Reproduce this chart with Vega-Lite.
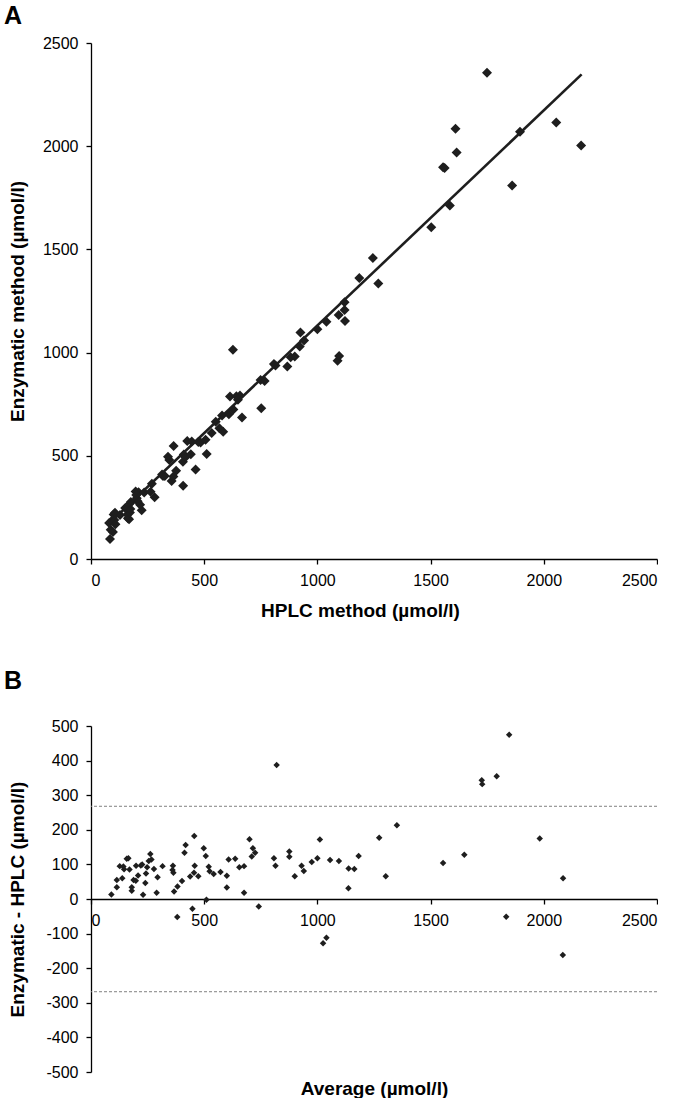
{
  "$schema": "https://vega.github.io/schema/vega-lite/v6.json",
  "padding": {"left": 4, "top": 4, "right": 0, "bottom": 0},
  "autosize": {"type": "pad"},
  "background": "white",
  "config": {
    "font": "Liberation Sans",
    "view": {"stroke": null},
    "axis": {
      "grid": false, "domainColor": "#000", "tickColor": "#000", "labelColor": "#000",
      "labelFontSize": 16, "labelFont": "Liberation Sans", "titleFont": "Liberation Sans",
      "titleFontSize": 19, "titleFontWeight": "bold", "titleColor": "#000",
      "tickSize": 5, "domainWidth": 1.3, "tickWidth": 1.3, "labelPadding": 8,
      "labelOverlap": false, "labelExpr": "'' + datum.value"
    },
    "title": {"fontSize": 25, "fontWeight": "bold", "anchor": "start", "frame": "bounds", "color": "#000", "font": "Liberation Sans"}
  },
  "datasets": {
    "a": [
      {"h":84,"e":97},{"h":97,"e":131},{"h":87,"e":142},{"h":80,"e":175},{"h":108,"e":168},{"h":96,"e":190},{"h":103,"e":189},{"h":100,"e":216},{"h":106,"e":224},{"h":128,"e":213},
      {"h":163,"e":197},{"h":168,"e":192},{"h":161,"e":216},{"h":172,"e":225},{"h":151,"e":247},{"h":174,"e":242},{"h":172,"e":269},{"h":176,"e":276},{"h":224,"e":236},{"h":217,"e":263},
      {"h":206,"e":280},{"h":202,"e":294},{"h":197,"e":327},{"h":210,"e":324},{"h":200,"e":310},{"h":235,"e":322},{"h":281,"e":299},{"h":263,"e":326},{"h":269,"e":364},{"h":314,"e":410},
      {"h":318,"e":402},{"h":326,"e":402},{"h":356,"e":378},{"h":364,"e":400},{"h":407,"e":355},{"h":376,"e":428},{"h":346,"e":480},{"h":340,"e":496},{"h":406,"e":471},{"h":462,"e":434},
      {"h":365,"e":547},{"h":410,"e":506},{"h":417,"e":493},{"h":441,"e":507},{"h":425,"e":572},{"h":445,"e":569},{"h":511,"e":509},{"h":474,"e":567},{"h":484,"e":564},{"h":506,"e":578},
      {"h":533,"e":611},{"h":567,"e":634},{"h":584,"e":617},{"h":551,"e":665},{"h":579,"e":695},{"h":609,"e":701},{"h":629,"e":724},{"h":667,"e":685},{"h":614,"e":787},{"h":642,"e":789},
      {"h":658,"e":792},{"h":649,"e":772},{"h":752,"e":730},{"h":749,"e":867},{"h":767,"e":863},{"h":627,"e":1014},{"h":808,"e":945},{"h":815,"e":937},{"h":867,"e":933},{"h":882,"e":978},
      {"h":900,"e":981},{"h":922,"e":1029},{"h":941,"e":1059},{"h":925,"e":1097},{"h":1089,"e":961},{"h":1096,"e":984},{"h":1000,"e":1113},{"h":1040,"e":1150},{"h":1094,"e":1182},{"h":1120,"e":1207},
      {"h":1122,"e":1153},{"h":1120,"e":1244},{"h":1185,"e":1362},{"h":1269,"e":1335},{"h":1245,"e":1458},{"h":1503,"e":1607},{"h":1585,"e":1713},{"h":1555,"e":1898},{"h":1562,"e":1894},{"h":1615,"e":1970},
      {"h":1860,"e":1809},{"h":1610,"e":2085},{"h":1895,"e":2070},{"h":2055,"e":2115},{"h":2165,"e":2003},{"h":1749,"e":2356}
    ],
    "b": [
      {"avg":90,"diff":13},{"avg":114,"diff":34},{"avg":114,"diff":55},{"avg":127,"diff":95},{"avg":138,"diff":60},{"avg":143,"diff":94},{"avg":146,"diff":86},{"avg":158,"diff":116},{"avg":165,"diff":118},{"avg":170,"diff":85},
      {"avg":180,"diff":34},{"avg":180,"diff":24},{"avg":188,"diff":55},{"avg":198,"diff":53},{"avg":199,"diff":96},{"avg":208,"diff":68},{"avg":220,"diff":97},{"avg":226,"diff":100},{"avg":230,"diff":12},{"avg":240,"diff":46},
      {"avg":243,"diff":74},{"avg":248,"diff":92},{"avg":262,"diff":130},{"avg":267,"diff":114},{"avg":255,"diff":110},{"avg":278,"diff":87},{"avg":290,"diff":18},{"avg":294,"diff":63},{"avg":316,"diff":95},{"avg":362,"diff":96},
      {"avg":360,"diff":84},{"avg":364,"diff":76},{"avg":367,"diff":22},{"avg":382,"diff":36},{"avg":381,"diff":-52},{"avg":402,"diff":52},{"avg":413,"diff":134},{"avg":418,"diff":156},{"avg":438,"diff":65},{"avg":448,"diff":-28},
      {"avg":456,"diff":182},{"avg":458,"diff":96},{"avg":455,"diff":76},{"avg":474,"diff":66},{"avg":498,"diff":147},{"avg":507,"diff":124},{"avg":510,"diff":-2},{"avg":520,"diff":93},{"avg":524,"diff":80},{"avg":542,"diff":72},
      {"avg":572,"diff":78},{"avg":600,"diff":67},{"avg":600,"diff":33},{"avg":608,"diff":114},{"avg":637,"diff":116},{"avg":655,"diff":92},{"avg":676,"diff":95},{"avg":676,"diff":18},{"avg":700,"diff":173},{"avg":715,"diff":147},
      {"avg":725,"diff":134},{"avg":710,"diff":123},{"avg":741,"diff":-22},{"avg":808,"diff":118},{"avg":815,"diff":96},{"avg":820,"diff":387},{"avg":876,"diff":137},{"avg":876,"diff":122},{"avg":900,"diff":66},{"avg":930,"diff":96},
      {"avg":940,"diff":81},{"avg":975,"diff":107},{"avg":1000,"diff":118},{"avg":1011,"diff":172},{"avg":1025,"diff":-128},{"avg":1040,"diff":-112},{"avg":1056,"diff":113},{"avg":1095,"diff":110},{"avg":1138,"diff":88},{"avg":1163,"diff":87},
      {"avg":1137,"diff":31},{"avg":1182,"diff":124},{"avg":1273,"diff":177},{"avg":1302,"diff":66},{"avg":1351,"diff":213},{"avg":1555,"diff":104},{"avg":1649,"diff":128},{"avg":1726,"diff":343},{"avg":1728,"diff":332},{"avg":1792,"diff":355},
      {"avg":1834,"diff":-51},{"avg":1847,"diff":475},{"avg":1982,"diff":175},{"avg":2085,"diff":60},{"avg":2084,"diff":-162}
    ]
  },
  "spacing": 49,
  "vconcat": [
    {
      "title": {"text": "A", "offset": 6, "dx": -4},
      "width": 566,
      "height": 516,
      "layer": [
        {
          "data": {"name": "a"},
          "mark": {"type": "point", "shape": "diamond", "filled": true, "size": 100, "color": "#1e1e1e", "opacity": 1},
          "encoding": {
            "x": {"field": "h", "type": "quantitative", "scale": {"domain": [0, 2500], "nice": false},
                  "axis": {"values": [0, 500, 1000, 1500, 2000, 2500], "title": "HPLC method (µmol/l)", "titlePadding": 13, "titleX": 269}},
            "y": {"field": "e", "type": "quantitative", "scale": {"domain": [0, 2500], "nice": false},
                  "axis": {"values": [0, 500, 1000, 1500, 2000, 2500], "title": "Enzymatic method (µmol/l)", "titleX": -74, "titleBaseline": "middle"}}
          }
        },
        {
          "data": {"values": [{"h": 80, "e": 172}, {"h": 2167, "e": 2348}]},
          "mark": {"type": "line", "color": "#1e1e1e", "strokeWidth": 2.6},
          "encoding": {
            "x": {"field": "h", "type": "quantitative"},
            "y": {"field": "e", "type": "quantitative"}
          }
        }
      ]
    },
    {
      "title": {"text": "B", "offset": 24, "dx": -4},
      "width": 566,
      "height": 346,
      "encoding": {
        "y": {"field": "diff", "type": "quantitative", "scale": {"domain": [-500, 500], "nice": false},
              "axis": {"values": [-500, -400, -300, -200, -100, 0, 100, 200, 300, 400, 500], "labelOverlap": false, "title": "Enzymatic - HPLC (µmol/l)", "titleX": -74, "titleBaseline": "middle"}}
      },
      "layer": [
        {
          "data": {"values": [{"diff": 268}, {"diff": -268}]},
          "mark": {"type": "rule", "color": "#808080", "strokeWidth": 1, "strokeDash": [3, 2]},
          "encoding": {}
        },
        {
          "data": {"name": "b"},
          "mark": {"type": "point", "shape": "diamond", "filled": true, "size": 42, "color": "#1e1e1e", "opacity": 1},
          "encoding": {
            "x": {"field": "avg", "type": "quantitative", "scale": {"domain": [0, 2500], "nice": false},
                  "axis": {"values": [0, 500, 1000, 1500, 2000, 2500], "title": "Average (µmol/l)", "offset": -173, "titleY": 189, "titleBaseline": "middle"}}
          }
        }
      ]
    }
  ]
}
